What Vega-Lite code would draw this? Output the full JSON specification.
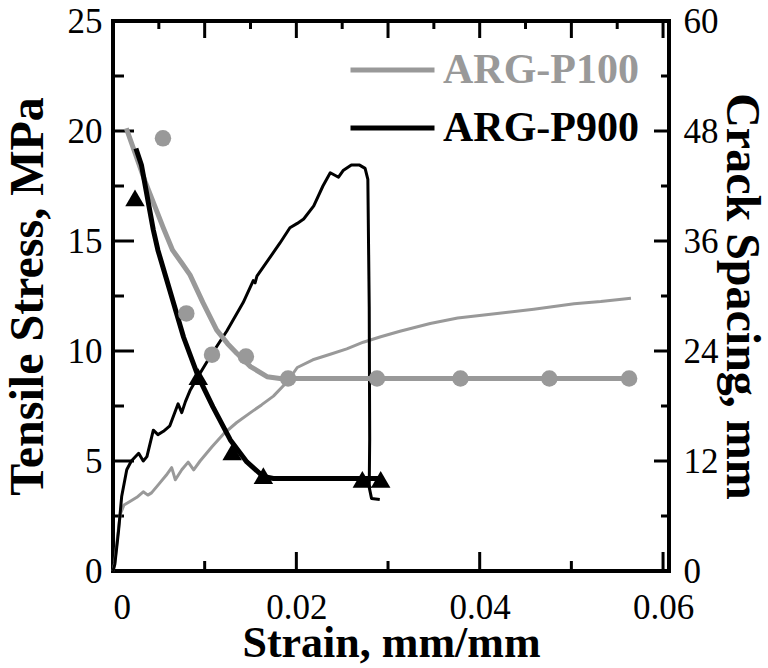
{
  "$schema": "https://vega.github.io/schema/vega-lite/v6.json",
  "width": 556,
  "height": 550,
  "autosize": {"type": "none"},
  "padding": {"left": 113, "top": 21, "right": 99, "bottom": 97},
  "background": "white",
  "config": {
    "view": {"stroke": "#000000", "strokeWidth": 4},
    "font": "Liberation Serif",
    "axis": {
      "grid": false,
      "labelFont": "Liberation Serif",
      "labelFontSize": 35,
      "labelColor": "black",
      "titleFont": "Liberation Serif",
      "titleFontSize": 44,
      "titleFontWeight": "bold",
      "titleColor": "black"
    }
  },
  "datasets": {
    "stress": [
      {"s": "ARG-P100", "i": 0, "x": 0, "y": 0},
      {"s": "ARG-P100", "i": 1, "x": 0.0002, "y": 0.4},
      {"s": "ARG-P100", "i": 2, "x": 0.0005, "y": 1.6},
      {"s": "ARG-P100", "i": 3, "x": 0.0008, "y": 2.6},
      {"s": "ARG-P100", "i": 4, "x": 0.0012, "y": 3.0},
      {"s": "ARG-P100", "i": 5, "x": 0.0018, "y": 3.15},
      {"s": "ARG-P100", "i": 6, "x": 0.0026, "y": 3.35},
      {"s": "ARG-P100", "i": 7, "x": 0.0033, "y": 3.6},
      {"s": "ARG-P100", "i": 8, "x": 0.0038, "y": 3.45},
      {"s": "ARG-P100", "i": 9, "x": 0.0042, "y": 3.55},
      {"s": "ARG-P100", "i": 10, "x": 0.005, "y": 3.95},
      {"s": "ARG-P100", "i": 11, "x": 0.0058, "y": 4.35},
      {"s": "ARG-P100", "i": 12, "x": 0.0064, "y": 4.7},
      {"s": "ARG-P100", "i": 13, "x": 0.0068, "y": 4.15},
      {"s": "ARG-P100", "i": 14, "x": 0.0075, "y": 4.6},
      {"s": "ARG-P100", "i": 15, "x": 0.0082, "y": 4.95},
      {"s": "ARG-P100", "i": 16, "x": 0.0088, "y": 4.6},
      {"s": "ARG-P100", "i": 17, "x": 0.0095, "y": 5.0},
      {"s": "ARG-P100", "i": 18, "x": 0.0108, "y": 5.65},
      {"s": "ARG-P100", "i": 19, "x": 0.0121, "y": 6.25},
      {"s": "ARG-P100", "i": 20, "x": 0.0135, "y": 6.75},
      {"s": "ARG-P100", "i": 21, "x": 0.015, "y": 7.2},
      {"s": "ARG-P100", "i": 22, "x": 0.0162, "y": 7.55},
      {"s": "ARG-P100", "i": 23, "x": 0.0175, "y": 7.95},
      {"s": "ARG-P100", "i": 24, "x": 0.019, "y": 8.6},
      {"s": "ARG-P100", "i": 25, "x": 0.0201, "y": 9.25},
      {"s": "ARG-P100", "i": 26, "x": 0.0218, "y": 9.6},
      {"s": "ARG-P100", "i": 27, "x": 0.0237, "y": 9.85},
      {"s": "ARG-P100", "i": 28, "x": 0.0255, "y": 10.1},
      {"s": "ARG-P100", "i": 29, "x": 0.0273, "y": 10.4},
      {"s": "ARG-P100", "i": 30, "x": 0.0292, "y": 10.65},
      {"s": "ARG-P100", "i": 31, "x": 0.0313, "y": 10.9},
      {"s": "ARG-P100", "i": 32, "x": 0.0346, "y": 11.25},
      {"s": "ARG-P100", "i": 33, "x": 0.0376, "y": 11.5},
      {"s": "ARG-P100", "i": 34, "x": 0.0419, "y": 11.7},
      {"s": "ARG-P100", "i": 35, "x": 0.0459, "y": 11.9},
      {"s": "ARG-P100", "i": 36, "x": 0.0503, "y": 12.15},
      {"s": "ARG-P100", "i": 37, "x": 0.0532, "y": 12.25},
      {"s": "ARG-P100", "i": 38, "x": 0.0565, "y": 12.4},
      {"s": "ARG-P900", "i": 0, "x": 0, "y": 0},
      {"s": "ARG-P900", "i": 1, "x": 0.0002, "y": 0.3},
      {"s": "ARG-P900", "i": 2, "x": 0.0006, "y": 1.8},
      {"s": "ARG-P900", "i": 3, "x": 0.00095, "y": 3.4},
      {"s": "ARG-P900", "i": 4, "x": 0.0015, "y": 4.6},
      {"s": "ARG-P900", "i": 5, "x": 0.002, "y": 5.0},
      {"s": "ARG-P900", "i": 6, "x": 0.0028, "y": 5.35},
      {"s": "ARG-P900", "i": 7, "x": 0.0033, "y": 5.0},
      {"s": "ARG-P900", "i": 8, "x": 0.0037, "y": 5.2},
      {"s": "ARG-P900", "i": 9, "x": 0.0044, "y": 6.4},
      {"s": "ARG-P900", "i": 10, "x": 0.0049, "y": 6.2},
      {"s": "ARG-P900", "i": 11, "x": 0.0055, "y": 6.35},
      {"s": "ARG-P900", "i": 12, "x": 0.0062, "y": 6.6},
      {"s": "ARG-P900", "i": 13, "x": 0.0071, "y": 7.6},
      {"s": "ARG-P900", "i": 14, "x": 0.0075, "y": 7.2},
      {"s": "ARG-P900", "i": 15, "x": 0.0079, "y": 7.7},
      {"s": "ARG-P900", "i": 16, "x": 0.0084, "y": 8.2},
      {"s": "ARG-P900", "i": 17, "x": 0.0093, "y": 8.85},
      {"s": "ARG-P900", "i": 18, "x": 0.0106, "y": 9.75},
      {"s": "ARG-P900", "i": 19, "x": 0.0124, "y": 10.9},
      {"s": "ARG-P900", "i": 20, "x": 0.0142, "y": 12.2},
      {"s": "ARG-P900", "i": 21, "x": 0.0153, "y": 13.2},
      {"s": "ARG-P900", "i": 22, "x": 0.0155, "y": 13.1},
      {"s": "ARG-P900", "i": 23, "x": 0.0157, "y": 13.4},
      {"s": "ARG-P900", "i": 24, "x": 0.0182, "y": 14.9},
      {"s": "ARG-P900", "i": 25, "x": 0.0193, "y": 15.6},
      {"s": "ARG-P900", "i": 26, "x": 0.0201, "y": 15.8},
      {"s": "ARG-P900", "i": 27, "x": 0.0208, "y": 16.0},
      {"s": "ARG-P900", "i": 28, "x": 0.0219, "y": 16.6},
      {"s": "ARG-P900", "i": 29, "x": 0.0229, "y": 17.5},
      {"s": "ARG-P900", "i": 30, "x": 0.0237, "y": 18.1},
      {"s": "ARG-P900", "i": 31, "x": 0.0246, "y": 17.9},
      {"s": "ARG-P900", "i": 32, "x": 0.0251, "y": 18.2},
      {"s": "ARG-P900", "i": 33, "x": 0.026, "y": 18.45},
      {"s": "ARG-P900", "i": 34, "x": 0.0269, "y": 18.45},
      {"s": "ARG-P900", "i": 35, "x": 0.0275, "y": 18.3},
      {"s": "ARG-P900", "i": 36, "x": 0.0278, "y": 17.8},
      {"s": "ARG-P900", "i": 37, "x": 0.02795, "y": 12},
      {"s": "ARG-P900", "i": 38, "x": 0.028, "y": 6},
      {"s": "ARG-P900", "i": 39, "x": 0.02795, "y": 3.8},
      {"s": "ARG-P900", "i": 40, "x": 0.0282, "y": 3.3},
      {"s": "ARG-P900", "i": 41, "x": 0.0291, "y": 3.25}
    ],
    "spacing": [
      {"g": "P100", "i": 0, "x": 0.00145, "y": 48.3},
      {"g": "P100", "i": 1, "x": 0.0035, "y": 42.5},
      {"g": "P100", "i": 2, "x": 0.0055, "y": 37.4},
      {"g": "P100", "i": 3, "x": 0.0065, "y": 35.0},
      {"g": "P100", "i": 4, "x": 0.0075, "y": 33.6},
      {"g": "P100", "i": 5, "x": 0.0084, "y": 32.3},
      {"g": "P100", "i": 6, "x": 0.0098, "y": 29.3},
      {"g": "P100", "i": 7, "x": 0.0113, "y": 26.3},
      {"g": "P100", "i": 8, "x": 0.0125, "y": 24.8},
      {"g": "P100", "i": 9, "x": 0.0135, "y": 23.75},
      {"g": "P100", "i": 10, "x": 0.015, "y": 22.3},
      {"g": "P100", "i": 11, "x": 0.0168, "y": 21.2},
      {"g": "P100", "i": 12, "x": 0.0182, "y": 21.0},
      {"g": "P100", "i": 13, "x": 0.0563, "y": 21.0},
      {"g": "P900", "i": 0, "x": 0.0025, "y": 46.1},
      {"g": "P900", "i": 1, "x": 0.0031, "y": 44.3},
      {"g": "P900", "i": 2, "x": 0.0044, "y": 37.2},
      {"g": "P900", "i": 3, "x": 0.0049, "y": 35.0},
      {"g": "P900", "i": 4, "x": 0.0062, "y": 30.6},
      {"g": "P900", "i": 5, "x": 0.0077, "y": 25.5},
      {"g": "P900", "i": 6, "x": 0.0093, "y": 21.2},
      {"g": "P900", "i": 7, "x": 0.0109, "y": 17.9},
      {"g": "P900", "i": 8, "x": 0.0128, "y": 14.3},
      {"g": "P900", "i": 9, "x": 0.0146, "y": 11.9},
      {"g": "P900", "i": 10, "x": 0.0164, "y": 10.3},
      {"g": "P900", "i": 11, "x": 0.0175, "y": 10.1},
      {"g": "P900", "i": 12, "x": 0.0292, "y": 10.1}
    ],
    "markers": [
      {"g": "P100", "x": 0.00545, "y": 47.2},
      {"g": "P100", "x": 0.008, "y": 28.1},
      {"g": "P100", "x": 0.0108, "y": 23.6},
      {"g": "P100", "x": 0.0145, "y": 23.4},
      {"g": "P100", "x": 0.0191, "y": 21.0},
      {"g": "P100", "x": 0.0288, "y": 21.0},
      {"g": "P100", "x": 0.0379, "y": 21.0},
      {"g": "P100", "x": 0.0476, "y": 21.0},
      {"g": "P100", "x": 0.0563, "y": 21.0},
      {"g": "P900", "x": 0.0024, "y": 40.7},
      {"g": "P900", "x": 0.0093, "y": 21.2},
      {"g": "P900", "x": 0.013, "y": 13.0},
      {"g": "P900", "x": 0.0164, "y": 10.4},
      {"g": "P900", "x": 0.0272, "y": 10.0},
      {"g": "P900", "x": 0.0292, "y": 10.0}
    ]
  },
  "layer": [
    {
      "data": {"values": [{"v": 0}, {"v": 0.02}, {"v": 0.04}, {"v": 0.06}]},
      "mark": {"type": "tick", "orient": "vertical", "size": 19, "thickness": 3, "yOffset": -9.5, "color": "#000000", "opacity": 1},
      "encoding": {
        "x": {"field": "v", "type": "quantitative", "scale": {"domain": [0, 0.06065], "nice": false, "zero": false}, "axis": null},
        "y": {"datum": 0, "type": "quantitative", "scale": {"domain": [0, 25], "nice": false}, "axis": null}
      }
    },
    {
      "data": {"values": [{"v": 0.01}, {"v": 0.03}, {"v": 0.05}]},
      "mark": {"type": "tick", "orient": "vertical", "size": 10, "thickness": 3, "yOffset": -5, "color": "#000000", "opacity": 1},
      "encoding": {
        "x": {"field": "v", "type": "quantitative", "scale": {"domain": [0, 0.06065], "nice": false, "zero": false}, "axis": null},
        "y": {"datum": 0, "type": "quantitative", "scale": {"domain": [0, 25], "nice": false}, "axis": null}
      }
    },
    {
      "data": {"values": [{"v": 0.01}, {"v": 0.02}, {"v": 0.03}, {"v": 0.04}, {"v": 0.05}, {"v": 0.06}]},
      "mark": {"type": "tick", "orient": "vertical", "size": 17, "thickness": 3, "yOffset": 8.5, "color": "#000000", "opacity": 1},
      "encoding": {
        "x": {"field": "v", "type": "quantitative", "scale": {"domain": [0, 0.06065], "nice": false, "zero": false}, "axis": null},
        "y": {"datum": 25, "type": "quantitative", "scale": {"domain": [0, 25], "nice": false}, "axis": null}
      }
    },
    {
      "data": {"values": [{"v": 0.005}, {"v": 0.015}, {"v": 0.025}, {"v": 0.035}, {"v": 0.045}, {"v": 0.055}]},
      "mark": {"type": "tick", "orient": "vertical", "size": 8, "thickness": 3, "yOffset": 4, "color": "#000000", "opacity": 1},
      "encoding": {
        "x": {"field": "v", "type": "quantitative", "scale": {"domain": [0, 0.06065], "nice": false, "zero": false}, "axis": null},
        "y": {"datum": 25, "type": "quantitative", "scale": {"domain": [0, 25], "nice": false}, "axis": null}
      }
    },
    {
      "data": {"values": [{"v": 5}, {"v": 10}, {"v": 15}, {"v": 20}, {"v": 25}]},
      "mark": {"type": "tick", "orient": "horizontal", "size": 21, "thickness": 3, "xOffset": 10.5, "color": "#000000", "opacity": 1},
      "encoding": {
        "y": {"field": "v", "type": "quantitative", "scale": {"domain": [0, 25], "nice": false}, "axis": null},
        "x": {"datum": 0, "type": "quantitative", "scale": {"domain": [0, 0.06065], "nice": false, "zero": false}, "axis": null}
      }
    },
    {
      "data": {"values": [{"v": 2.5}, {"v": 7.5}, {"v": 12.5}, {"v": 17.5}, {"v": 22.5}]},
      "mark": {"type": "tick", "orient": "horizontal", "size": 11, "thickness": 3, "xOffset": 5.5, "color": "#000000", "opacity": 1},
      "encoding": {
        "y": {"field": "v", "type": "quantitative", "scale": {"domain": [0, 25], "nice": false}, "axis": null},
        "x": {"datum": 0, "type": "quantitative", "scale": {"domain": [0, 0.06065], "nice": false, "zero": false}, "axis": null}
      }
    },
    {
      "data": {"values": [{"v": 12}, {"v": 24}, {"v": 36}, {"v": 48}, {"v": 60}]},
      "mark": {"type": "tick", "orient": "horizontal", "size": 15, "thickness": 3, "xOffset": -7.5, "color": "#000000", "opacity": 1},
      "encoding": {
        "y": {"field": "v", "type": "quantitative", "scale": {"domain": [0, 60], "nice": false}, "axis": null},
        "x": {"datum": 0.06065, "type": "quantitative", "scale": {"domain": [0, 0.06065], "nice": false, "zero": false}, "axis": null}
      }
    },
    {
      "data": {"values": [{"v": 6}, {"v": 18}, {"v": 30}, {"v": 42}, {"v": 54}]},
      "mark": {"type": "tick", "orient": "horizontal", "size": 8, "thickness": 3, "xOffset": -4, "color": "#000000", "opacity": 1},
      "encoding": {
        "y": {"field": "v", "type": "quantitative", "scale": {"domain": [0, 60], "nice": false}, "axis": null},
        "x": {"datum": 0.06065, "type": "quantitative", "scale": {"domain": [0, 0.06065], "nice": false, "zero": false}, "axis": null}
      }
    },
    {
      "data": {"name": "stress"},
      "mark": {"type": "line", "strokeWidth": 3, "strokeJoin": "round"},
      "encoding": {
        "x": {
          "field": "x", "type": "quantitative",
          "scale": {"domain": [0, 0.06065], "nice": false, "zero": false},
          "axis": {
            "orient": "bottom",
            "title": "Strain, mm/mm",
            "values": [0, 0.02, 0.04, 0.06],
            "labelExpr": "format(datum.value, '~g')",
            "domain": false,
            "ticks": false,
            "labelPadding": 19,
            "titlePadding": -4
          }
        },
        "y": {
          "field": "y", "type": "quantitative",
          "scale": {"domain": [0, 25], "nice": false},
          "axis": {
            "orient": "left",
            "title": "Tensile Stress, MPa",
            "titleFontSize": 48,
            "values": [0, 5, 10, 15, 20, 25],
            "domain": false,
            "ticks": false,
            "labelPadding": 11,
            "titlePadding": 15
          }
        },
        "color": {
          "field": "s", "type": "nominal",
          "scale": {"domain": ["ARG-P100", "ARG-P900"], "range": ["#999999", "#000000"]},
          "legend": {
            "title": null,
            "orient": "none",
            "legendX": 235,
            "legendY": 26,
            "padding": 0,
            "symbolType": "M-1,0H1",
            "symbolSize": 7056,
            "symbolStrokeWidth": 5,
            "labelFont": "Liberation Serif",
            "labelFontSize": 42,
            "labelFontWeight": "bold",
            "labelOffset": 6,
            "labelLimit": 400,
            "clipHeight": 46,
            "rowPadding": 12,
            "encode": {
              "labels": {"update": {"fill": {"signal": "datum.label === 'ARG-P100' ? '#999999' : '#000000'"}}}
            }
          }
        },
        "order": {"field": "i"}
      }
    },
    {
      "layer": [
        {
          "data": {"name": "spacing"},
          "mark": {"type": "line", "strokeWidth": 5, "strokeJoin": "round"},
          "encoding": {
            "x": {
              "field": "x", "type": "quantitative",
              "scale": {"domain": [0, 0.06065], "nice": false, "zero": false},
              "axis": null
            },
            "y": {
              "field": "y", "type": "quantitative",
              "scale": {"domain": [0, 60], "nice": false},
              "axis": {"orient": "right", "title": "Crack Spacing, mm", "titleFontSize": 48,
                       "domain": false, "ticks": false,
                       "values": [0, 12, 24, 36, 48, 60],
                       "labelPadding": 14, "titlePadding": -2}
            },
            "stroke": {
              "field": "g", "type": "nominal",
              "scale": {"domain": ["P100", "P900"], "range": ["#999999", "#000000"]},
              "legend": null
            },
            "order": {"field": "i"}
          }
        },
        {
          "data": {"name": "markers"},
          "mark": {"type": "point", "filled": true, "opacity": 1, "strokeWidth": 0},
          "encoding": {
            "x": {
              "field": "x", "type": "quantitative",
              "scale": {"domain": [0, 0.06065], "nice": false, "zero": false},
              "axis": null
            },
            "y": {
              "field": "y", "type": "quantitative",
              "scale": {"domain": [0, 60], "nice": false},
              "axis": {"orient": "right", "title": "Crack Spacing, mm", "titleFontSize": 48,
                       "domain": false, "ticks": false,
                       "values": [0, 12, 24, 36, 48, 60],
                       "labelPadding": 14, "titlePadding": -2}
            },
            "fill": {
              "field": "g", "type": "nominal",
              "scale": {"domain": ["P100", "P900"], "range": ["#999999", "#000000"]},
              "legend": null
            },
            "shape": {
              "field": "g", "type": "nominal",
              "scale": {"domain": ["P100", "P900"], "range": ["circle", "triangle-up"]},
              "legend": null
            },
            "size": {
              "field": "g", "type": "nominal",
              "scale": {"domain": ["P100", "P900"], "range": [270, 380]},
              "legend": null
            }
          }
        }
      ]
    }
  ],
  "resolve": {
    "scale": {"y": "independent"},
    "axis": {"x": "independent", "y": "independent"}
  }
}
